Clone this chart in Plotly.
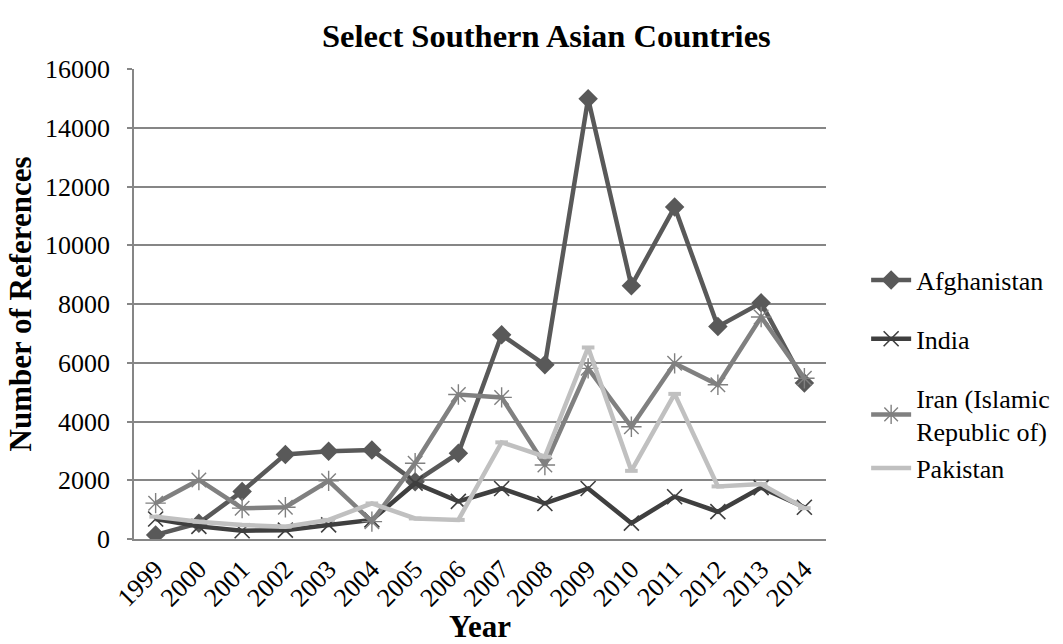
import plotly.graph_objects as go

# Yearly reference counts for selected Southern Asian countries
years = ["1999", "2000", "2001", "2002", "2003", "2004", "2005", "2006",
         "2007", "2008", "2009", "2010", "2011", "2012", "2013", "2014"]

afghanistan = [140, 540, 1620, 2880, 2990, 3030, 1950, 2920,
               6950, 5930, 14990, 8620, 11300, 7230, 8040, 5310]
india = [680, 430, 280, 300, 480, 650, 1900, 1280,
         1720, 1210, 1720, 540, 1440, 930, 1750, 1080]
iran = [1220, 2010, 1050, 1080, 1980, 590, 2580, 4920,
        4820, 2520, 5810, 3820, 5980, 5250, 7560, 5470]
pakistan = [760, 590, 480, 420, 650, 1210, 700, 650,
            3290, 2800, 6520, 2320, 4940, 1790, 1870, 1050]

FONT = "Liberation Serif, Times New Roman, serif"
GRID = "#868686"

series = [
    ("Afghanistan", afghanistan, "#595959", "g0",
     dict(symbol="diamond", size=15, color="#595959")),
    ("India", india, "#3f3f3f", "g1",
     dict(symbol="x-thin-open", size=15, line=dict(width=1.6, color="#3f3f3f"))),
    ("Iran (Islamic<br>Republic of)", iran, "#808080", "g2",
     dict(symbol="asterisk-open", size=17, line=dict(width=1.4, color="#808080"))),
    ("Pakistan", pakistan, "#c0c0c0", "g2",
     dict(symbol="line-ew-open", size=9, line=dict(width=4, color="#c0c0c0"))),
]

fig = go.Figure()
for name, vals, color, group, marker in series:
    fig.add_trace(go.Scatter(
        x=years, y=vals, name=name, mode="lines+markers",
        line=dict(color=color, width=4.5),
        marker=marker,
        legendgroup=group,
    ))

fig.update_layout(
    width=1063, height=644,
    paper_bgcolor="white", plot_bgcolor="white",
    margin=dict(l=134, r=237, t=69, b=105, autoexpand=False),
    font=dict(family=FONT, size=26, color="black"),
    title=dict(text="<b>Select Southern Asian Countries</b>",
               x=0.514, xanchor="center", y=0.945, yanchor="middle",
               font=dict(family=FONT, size=32.5, color="black")),
    showlegend=True,
    legend=dict(x=1.058, xanchor="left", y=0.35, yanchor="middle",
                font=dict(family=FONT, size=26, color="black"),
                tracegroupgap=22, itemwidth=40, bgcolor="rgba(0,0,0,0)"),
    xaxis=dict(
        type="category", range=[-0.5, 15.5],
        tickangle=-45, tickfont=dict(family=FONT, size=26),
        showgrid=False, showline=True, linecolor=GRID, linewidth=1.5,
        ticks="", zeroline=False, ticklabelstandoff=3,
        title=dict(text="<b>Year</b>", font=dict(family=FONT, size=31), standoff=0),
    ),
    yaxis=dict(
        range=[0, 16000], dtick=2000, tickformat="d",
        tickfont=dict(family=FONT, size=26),
        showgrid=True, gridcolor=GRID, gridwidth=1.5,
        showline=True, linecolor=GRID, linewidth=1.5,
        ticks="outside", ticklen=5, tickcolor=GRID, tickwidth=1.5,
        zeroline=False, ticklabelstandoff=12,
        title=dict(text="<b>Number of References</b>", font=dict(family=FONT, size=31), standoff=4),
    ),
)

fig.write_html("out.html")
